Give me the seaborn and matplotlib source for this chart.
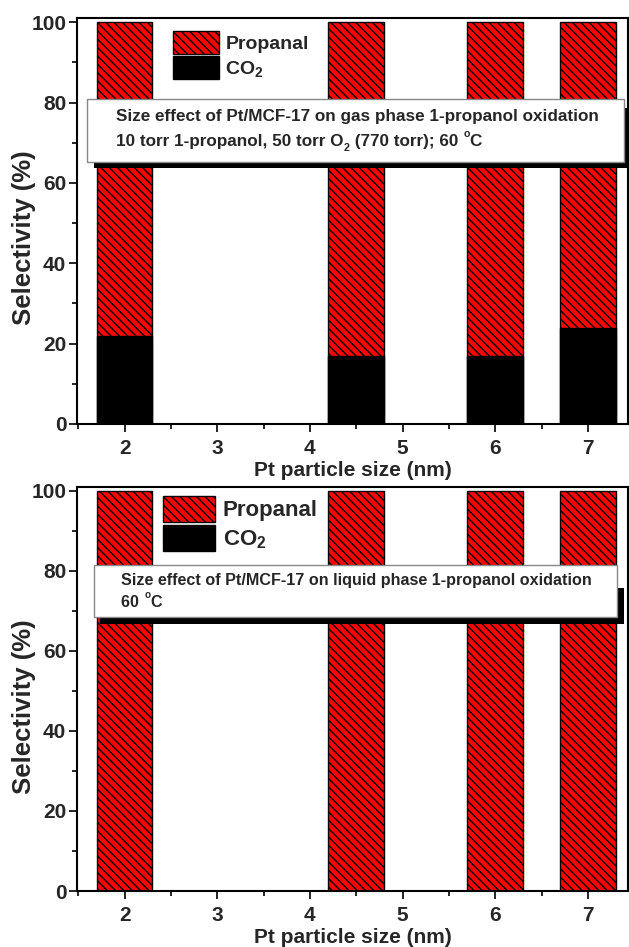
import matplotlib
matplotlib.use('Agg')
import matplotlib.pyplot as plt
import seaborn as sns
import pandas as pd
from matplotlib.patches import Patch, Rectangle
from matplotlib.ticker import MultipleLocator

# ---- data ----
sizes = [2, 4.5, 6, 7]
gas_co2 = [22, 17, 17, 24]
gas_propanal = [78, 83, 83, 76]
liq_co2 = [0, 0, 0, 0]
liq_propanal = [100, 100, 100, 100]
xticks = [2, 3, 4, 5, 6, 7]
yticks = [0, 20, 40, 60, 80, 100]
series_labels = ['Propanal', 'CO$_2$']
# text lines: list of (piece, kind) with kind n=normal, sub, sup
gas_text = [[('Size effect of Pt/MCF-17 on gas phase 1-propanol oxidation', 'n')],
            [('10 torr 1-propanol, 50 torr O', 'n'), ('2', 'sub'),
             (' (770 torr); 60 ', 'n'), ('o', 'sup'), ('C', 'n')]]
liq_text = [[('Size effect of Pt/MCF-17 on liquid phase 1-propanol oxidation', 'n')],
            [('60 ', 'n'), ('o', 'sup'), ('C', 'n')]]

sns.set_style('white')
plt.rcParams['font.family'] = ['Liberation Sans', 'DejaVu Sans']
plt.rcParams['font.weight'] = 'bold'
plt.rcParams['mathtext.fontset'] = 'custom'
plt.rcParams['mathtext.rm'] = 'Liberation Sans:bold'
plt.rcParams['mathtext.it'] = 'Liberation Sans:bold'
plt.rcParams['mathtext.bf'] = 'Liberation Sans:bold'
plt.rcParams['hatch.linewidth'] = 1.0
plt.rcParams['hatch.color'] = 'black'

HATCH = '\\\\\\\\'
RED = '#ff0000'

fig = plt.figure(figsize=(6.29, 9.47), dpi=100)
ax1 = fig.add_axes([0.123, 0.5523, 0.875, 0.4284])
ax2 = fig.add_axes([0.123, 0.0591, 0.875, 0.4270])


def rich_line(ax, x, y, parts, fs):
    first = ax.text(x, y, parts[0][0], transform=ax.transAxes, fontsize=fs,
                    fontweight='bold', va='center', ha='left', zorder=7)
    prev = first
    for s, kind in parts[1:]:
        if kind == 'sub':
            size, dy = fs * 0.62, -fs * 0.22
        elif kind == 'sup':
            size, dy = fs * 0.62, fs * 0.62
        else:
            size, dy = fs, 0
        prev = ax.annotate(s, xy=(1, 0), xycoords=(prev, first),
                           xytext=(0.3 if kind != 'n' else 0, dy),
                           textcoords='offset points', fontsize=size,
                           fontweight='bold', va='bottom', ha='left',
                           zorder=7, annotation_clip=False)


def panel(ax, co2, prop, texts, box, shadow, tpos, leg_anchor, leg_fs, tfs,
          ylab_y):
    df = pd.DataFrame({'size': sizes,
                       'total': [c + p for c, p in zip(co2, prop)],
                       'co2': co2})
    sns.barplot(data=df, x='size', y='total', native_scale=True, width=0.6,
                color=RED, saturation=1, edgecolor='black', linewidth=1,
                hatch=HATCH, errorbar=None, ax=ax)
    sns.barplot(data=df, x='size', y='co2', native_scale=True, width=0.6,
                color='black', saturation=1, edgecolor='black', linewidth=1,
                errorbar=None, ax=ax)
    ax.set_xlim(1.49, 7.43)
    ax.set_ylim(0, 101)
    ax.set_xticks(xticks)
    ax.set_xticklabels([str(t) for t in xticks])
    ax.set_yticks(yticks)
    ax.set_yticklabels([str(t) for t in yticks])
    ax.xaxis.set_minor_locator(MultipleLocator(0.5))
    ax.yaxis.set_minor_locator(MultipleLocator(10))
    ax.tick_params(which='major', direction='out', length=6, width=1.2,
                   labelsize=15, bottom=True, left=True, color='black')
    ax.tick_params(which='minor', direction='out', length=3.5, width=1.2,
                   bottom=True, left=True, color='black')
    ax.tick_params(axis='x', pad=5)
    ax.tick_params(axis='y', pad=2)
    for s in ax.spines.values():
        s.set_visible(True)
        s.set_linewidth(1.5)
        s.set_color('black')
    ax.set_xlabel('Pt particle size (nm)', fontsize=15, fontweight='bold',
                  labelpad=2)
    ax.set_ylabel('Selectivity (%)', fontsize=18.5, fontweight='bold')
    ax.yaxis.set_label_coords(-0.076, ylab_y)
    # annotation box with shadow
    ax.add_patch(Rectangle((shadow[0], shadow[1]), shadow[2] - shadow[0],
                           shadow[3] - shadow[1], transform=ax.transAxes,
                           facecolor='black', edgecolor='none',
                           clip_on=False, zorder=5))
    ax.add_patch(Rectangle((box[0], box[1]), box[2] - box[0],
                           box[3] - box[1], transform=ax.transAxes,
                           facecolor='white', edgecolor='#888888',
                           linewidth=1, clip_on=False, zorder=6))
    for parts, y in zip(texts, tpos[1]):
        rich_line(ax, tpos[0], y, parts, tfs)
    handles = [Patch(facecolor=RED, edgecolor='black', hatch=HATCH,
                     label=series_labels[0]),
               Patch(facecolor='black', edgecolor='black',
                     label=series_labels[1])]
    ax.legend(handles=handles, loc='upper left', bbox_to_anchor=leg_anchor,
              frameon=False, handlelength=2.35,
              handleheight=1.44, labelspacing=0.13, handletextpad=0.35,
              borderpad=0, borderaxespad=0,
              prop={'weight': 'bold', 'size': leg_fs})


panel(ax1, gas_co2, gas_propanal, gas_text,
      box=(0.018, 0.645, 0.9927, 0.8003),
      shadow=(0.030, 0.631, 1.0018, 0.78),
      tpos=(0.070, (0.7575, 0.6958)),
      leg_anchor=(0.1736, 0.969), leg_fs=14, tfs=12.3, ylab_y=0.458)
panel(ax2, liq_co2, liq_propanal, liq_text,
      box=(0.030, 0.678, 0.980, 0.806),
      shadow=(0.041, 0.660, 0.9927, 0.75),
      tpos=(0.080, (0.769, 0.713)),
      leg_anchor=(0.155, 0.978), leg_fs=16, tfs=11.6, ylab_y=0.455)

fig.savefig('out.png', dpi=100, facecolor='white')
